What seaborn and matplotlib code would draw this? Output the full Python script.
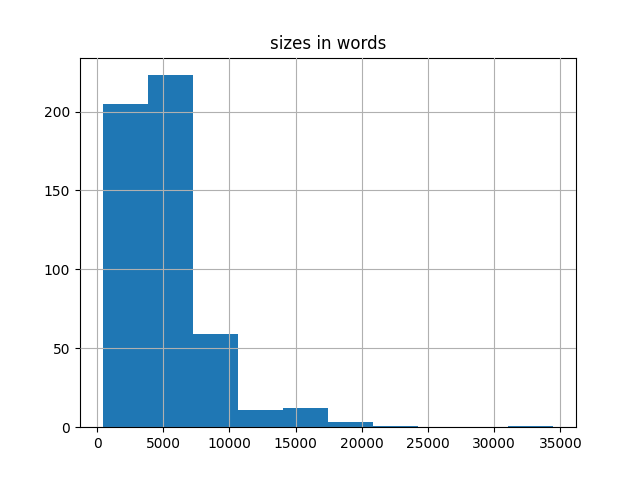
import numpy as np
import pandas as pd
import seaborn as sns
import matplotlib.pyplot as plt

# histogram: 10 equal bins
bin_low = 416
bin_high = 34470
counts = [205, 223, 59, 11, 12, 3, 1, 0, 0, 1]

edges = np.linspace(bin_low, bin_high, len(counts) + 1)
centers = (edges[:-1] + edges[1:]) / 2
df = pd.DataFrame({"size": centers, "count": counts})

fig, ax = plt.subplots(figsize=(6.4, 4.8), dpi=100)
sns.histplot(data=df, x="size", weights="count", bins=list(edges), ax=ax,
             color="#1f77b4", alpha=1, linewidth=0, edgecolor="none",
             zorder=1)
ax.set_axisbelow(False)
ax.grid(True, color="#b0b0b0", linewidth=0.8, alpha=1)
ax.set_title("sizes in words")
ax.set_xlabel("")
ax.set_ylabel("")
plt.savefig("out.png")
